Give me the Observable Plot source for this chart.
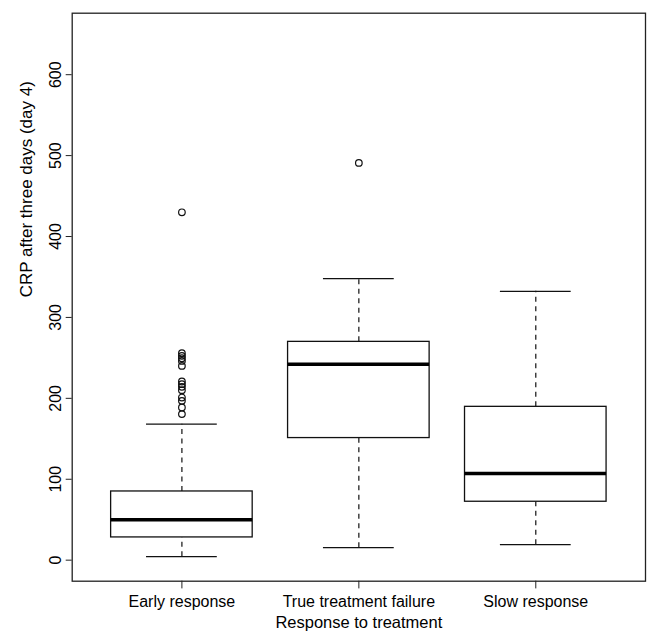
<!DOCTYPE html>
<html><head><meta charset="utf-8">
<script src="https://cdn.jsdelivr.net/npm/d3@7"></script>
<script src="https://cdn.jsdelivr.net/npm/@observablehq/plot@0.6"></script>
<style>html,body{margin:0;padding:0;background:#fff} #chart svg{display:block}</style>
</head><body><div id="chart"></div>
<script>
const categories = ["Early response", "True treatment failure", "Slow response"];
const lowerWhisker = [4.3, 15.4, 19.1];
const lowerQuartile = [28.1, 150.9, 72.2];
const medians = [50, 242.2, 107.2];
const upperQuartile = [84.9, 269.8, 189.5];
const upperWhisker = [168.1, 347.9, 332.3];
const outliersEarly = [429.9, 255.8, 252.5, 249.6, 246.3, 240.1, 220.8, 217.5, 214.2, 210.1, 201, 196.9, 188.7, 180.5];
const outliersFailure = [491];
const outliersSlow = [];
const yTicks = [0, 100, 200, 300, 400, 500, 600];
const xTitle = "Response to treatment";
const yTitle = "CRP after three days (day 4)";

const boxes = categories.map((c, i) => ({
  pos: i + 1, name: c,
  lo: lowerWhisker[i], q1: lowerQuartile[i], med: medians[i], q3: upperQuartile[i], hi: upperWhisker[i]
}));
const outlierRows = [];
[outliersEarly, outliersFailure, outliersSlow].forEach((arr, i) => arr.forEach(v => outlierRows.push({pos: i + 1, value: v})));

const halfBox = 0.4, halfCap = 0.2;
const plot = Plot.plot({
  width: 648, height: 632,
  marginLeft: 71.7, marginRight: 3, marginTop: 12.7, marginBottom: 51.3,
  style: {fontFamily: "'Liberation Sans', Arial, Helvetica, sans-serif", fontSize: "16px", background: "#fff", color: "#000"},
  x: {domain: [0.38, 3.62], axis: null},
  y: {domain: [-26, 676], axis: null},
  marks: [
    Plot.ruleX(boxes, {x: "pos", y1: "q3", y2: "hi", stroke: "#111", strokeWidth: 1.2, strokeDasharray: "5,4.5"}),
    Plot.ruleX(boxes, {x: "pos", y1: "lo", y2: "q1", stroke: "#111", strokeWidth: 1.2, strokeDasharray: "5,4.5"}),
    Plot.ruleY(boxes, {y: "hi", x1: d => d.pos - halfCap, x2: d => d.pos + halfCap, stroke: "#111", strokeWidth: 1.3}),
    Plot.ruleY(boxes, {y: "lo", x1: d => d.pos - halfCap, x2: d => d.pos + halfCap, stroke: "#111", strokeWidth: 1.3}),
    Plot.rect(boxes, {x1: d => d.pos - halfBox, x2: d => d.pos + halfBox, y1: "q1", y2: "q3", fill: "white", stroke: "#111", strokeWidth: 1.3}),
    Plot.ruleY(boxes, {y: "med", x1: d => d.pos - halfBox, x2: d => d.pos + halfBox, stroke: "#000", strokeWidth: 3.5}),
    Plot.dot(outlierRows, {x: "pos", y: "value", r: 3.3, stroke: "#111", strokeWidth: 1.2, fill: "none"}),
    Plot.axisX({ticks: [1, 2, 3], tickFormat: i => categories[i - 1], tickSize: 7.7, tickPadding: 7, fontSize: 16, label: null, stroke: "#222"}),
    Plot.axisY({ticks: yTicks, tickFormat: d => String(d), tickRotate: -90, tickSize: 6, tickPadding: 5, fontSize: 16, label: null, stroke: "#222"}),
    Plot.frame({stroke: "#222", strokeWidth: 1.3}),
    Plot.text([xTitle], {frameAnchor: "bottom", dy: 41.5, fontSize: 16.5, lineAnchor: "middle", text: d => d}),
    Plot.text([yTitle], {frameAnchor: "left", dx: -46, rotate: -90, fontSize: 17, lineAnchor: "middle", text: d => d})
  ]
});
document.getElementById("chart").appendChild(plot);
</script>
</body></html>
